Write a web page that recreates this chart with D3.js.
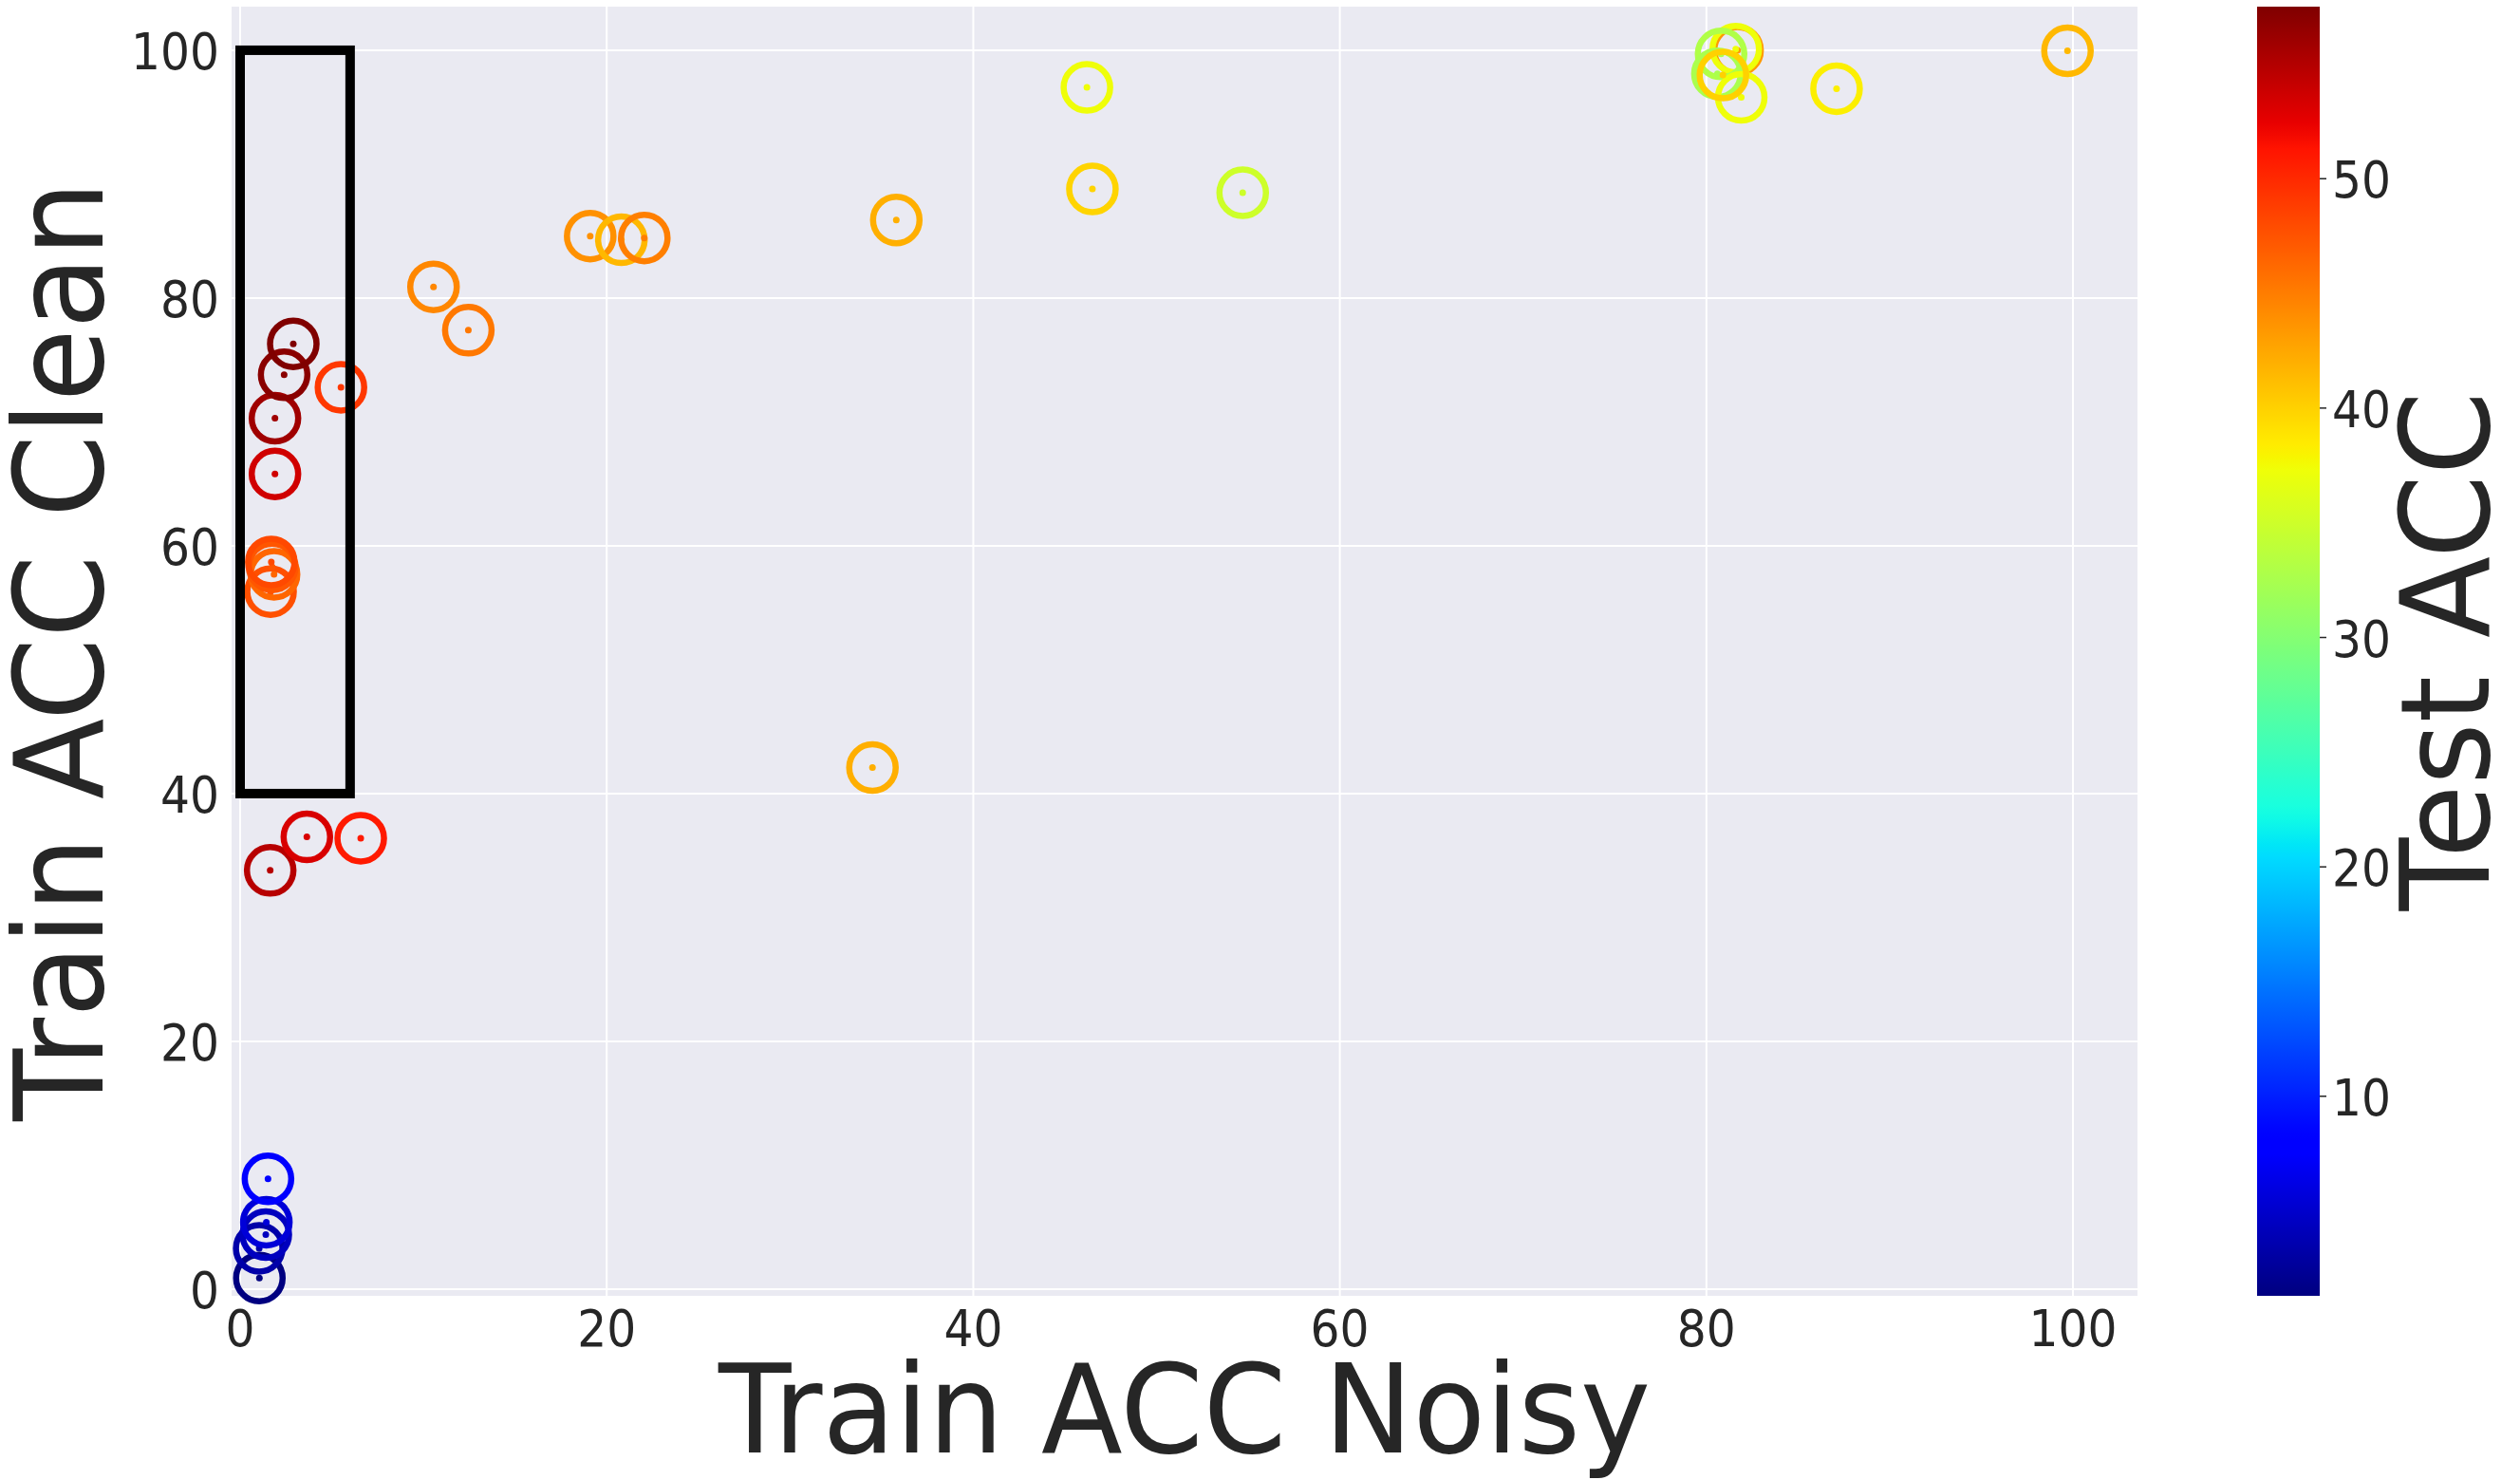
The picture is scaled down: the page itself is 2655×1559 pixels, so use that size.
<!DOCTYPE html>
<html>
<head>
<meta charset="utf-8">
<script src="https://cdn.jsdelivr.net/npm/d3@7"></script>
<style>
  body { margin: 0; background: #fff; }
  text { font-family: "DejaVu Sans", sans-serif; fill: #262626; }
</style>
</head>
<body>
<div id="my_dataviz"></div>
<script>
// data
const trainNoisy = [1.05, 1.04, 1.40, 1.43, 1.52, 1.64, 3.64, 6.58, 1.66, 1.85, 1.75, 1.70,
                    1.9, 1.9, 2.4, 2.9, 5.5, 10.55, 12.45, 19.1, 20.8, 22.05, 34.5, 35.8,
                    46.2, 46.5, 54.7, 81.7, 81.6, 80.8, 80.6, 81.9, 80.9, 87.1, 99.7];
const trainClean = [0.9, 3.3, 4.4, 5.4, 8.9, 33.8, 36.5, 36.4, 56.3, 57.7, 58.3, 58.7,
                    65.8, 70.3, 73.8, 76.3, 72.8, 80.9, 77.4, 85.0, 84.7, 84.85, 42.1, 86.3,
                    97.0, 88.8, 88.5, 100.0, 100.1, 99.7, 98.1, 96.2, 98.0, 96.9, 99.95];
const testAcc    = [1.3, 3.3, 4.4, 5.6, 7.5, 54.8, 53.2, 50.9, 47.7, 46.4, 47.3, 48.1,
                    53.6, 55.9, 57.0, 57.5, 49.1, 44.4, 45.3, 43.8, 41.5, 44.9, 42.0, 42.0,
                    37.3, 39.8, 35.0, 43.3, 37.2, 33.0, 32.6, 37.3, 40.0, 38.2, 41.5];

const xTicks = [0, 20, 40, 60, 80, 100];
const yTicks = [0, 20, 40, 60, 80, 100];
const cbarTicks = [10, 20, 30, 40, 50];
// highlighted region: [x0, y0, x1, y1]
const box = [0, 40, 6, 100];

const margin = { top: 7, right: 403, bottom: 194, left: 244 },
      width = 2655 - margin.left - margin.right,
      height = 1559 - margin.top - margin.bottom;

// matplotlib "jet"
const jetR = [[0, 0], [0.35, 0], [0.66, 1], [0.89, 1], [1, 0.5]];
const jetG = [[0, 0], [0.125, 0], [0.375, 1], [0.64, 1], [0.91, 0], [1, 0]];
const jetB = [[0, 0.5], [0.11, 1], [0.34, 1], [0.65, 0], [1, 0]];
const seg = s => d3.scaleLinear().domain(s.map(d => d[0])).range(s.map(d => d[1])).clamp(true);
const fr = seg(jetR), fg = seg(jetG), fb = seg(jetB);
const jet = t => d3.rgb(fr(t) * 255, fg(t) * 255, fb(t) * 255).formatHex();

const svg = d3.select("#my_dataviz")
  .append("svg")
  .attr("width", 2655)
  .attr("height", 1559);

const g = svg.append("g")
  .attr("transform", `translate(${margin.left},${margin.top})`);

const x = d3.scaleLinear().domain([-0.466, 103.52]).range([0, width]);
const y = d3.scaleLinear().domain([-0.54, 103.52]).range([height, 0]);
const cmin = d3.min(testAcc), cmax = d3.max(testAcc);
const color = v => jet((v - cmin) / (cmax - cmin));

const tickFont = 54, digitW = 31;

// background + grid
g.append("rect")
  .attr("width", width)
  .attr("height", height)
  .attr("fill", "#eaeaf2");

g.selectAll("line.gx")
  .data(xTicks)
  .enter()
  .append("line")
  .attr("x1", d => x(d)).attr("x2", d => x(d))
  .attr("y1", 0).attr("y2", height)
  .attr("stroke", "#fff").attr("stroke-width", 2);

g.selectAll("line.gy")
  .data(yTicks)
  .enter()
  .append("line")
  .attr("y1", d => y(d)).attr("y2", d => y(d))
  .attr("x1", 0).attr("x2", width)
  .attr("stroke", "#fff").attr("stroke-width", 2);

// tick labels
g.selectAll("text.xt")
  .data(xTicks)
  .enter()
  .append("text")
  .attr("x", d => x(d))
  .attr("y", height + 53)
  .attr("text-anchor", "middle")
  .attr("font-size", tickFont)
  .attr("textLength", d => String(d).length * digitW)
  .attr("lengthAdjust", "spacingAndGlyphs")
  .text(d => d);

g.selectAll("text.yt")
  .data(yTicks)
  .enter()
  .append("text")
  .attr("x", -13)
  .attr("y", d => y(d) + 20)
  .attr("text-anchor", "end")
  .attr("font-size", tickFont)
  .attr("textLength", d => String(d).length * digitW)
  .attr("lengthAdjust", "spacingAndGlyphs")
  .text(d => d);

// points
const pts = trainNoisy.map((d, i) => ({ x: d, y: trainClean[i], c: testAcc[i] }));
const pg = g.selectAll("g.pt")
  .data(pts)
  .enter()
  .append("g");

pg.append("circle")
  .attr("cx", d => x(d.x))
  .attr("cy", d => y(d.y))
  .attr("r", 24.5)
  .attr("fill", "none")
  .attr("stroke", d => color(d.c))
  .attr("stroke-width", 6.5);

pg.append("circle")
  .attr("cx", d => x(d.x))
  .attr("cy", d => y(d.y))
  .attr("r", 3.5)
  .attr("fill", d => color(d.c));

// highlight box
g.append("rect")
  .attr("x", x(box[0]))
  .attr("y", y(box[3]))
  .attr("width", x(box[2]) - x(box[0]))
  .attr("height", y(box[1]) - y(box[3]))
  .attr("fill", "none")
  .attr("stroke", "#000")
  .attr("stroke-width", 10);

// axis labels
svg.append("text")
  .attr("x", margin.left + width / 2)
  .attr("y", 1530)
  .attr("text-anchor", "middle")
  .attr("font-size", 130)
  .attr("textLength", 982)
  .attr("lengthAdjust", "spacingAndGlyphs")
  .text("Train ACC Noisy");

svg.append("text")
  .attr("transform", `translate(108,${margin.top + height / 2}) rotate(-90)`)
  .attr("text-anchor", "middle")
  .attr("font-size", 130)
  .attr("textLength", 990)
  .attr("lengthAdjust", "spacingAndGlyphs")
  .text("Train ACC Clean");

// colorbar
const cb = { x: 2378, w: 66 };
const grad = svg.append("defs").append("linearGradient")
  .attr("id", "jetgrad")
  .attr("x1", 0).attr("y1", 1).attr("x2", 0).attr("y2", 0);
grad.selectAll("stop")
  .data(d3.range(0, 1.0001, 0.01))
  .enter()
  .append("stop")
  .attr("offset", d => d)
  .attr("stop-color", d => jet(d));

svg.append("rect")
  .attr("x", cb.x)
  .attr("y", margin.top)
  .attr("width", cb.w)
  .attr("height", height)
  .attr("fill", "url(#jetgrad)");

const cy = d3.scaleLinear().domain([cmin, cmax]).range([margin.top + height, margin.top]);

svg.selectAll("line.ct")
  .data(cbarTicks)
  .enter()
  .append("line")
  .attr("x1", cb.x + cb.w).attr("x2", cb.x + cb.w + 7)
  .attr("y1", d => cy(d)).attr("y2", d => cy(d))
  .attr("stroke", "#262626").attr("stroke-width", 1.5);

svg.selectAll("text.ct")
  .data(cbarTicks)
  .enter()
  .append("text")
  .attr("x", cb.x + cb.w + 13)
  .attr("y", d => cy(d) + 20)
  .attr("font-size", tickFont)
  .attr("textLength", d => String(d).length * digitW)
  .attr("lengthAdjust", "spacingAndGlyphs")
  .text(d => d);

svg.append("text")
  .attr("transform", `translate(2622,${margin.top + height / 2}) rotate(-90)`)
  .attr("text-anchor", "middle")
  .attr("font-size", 130)
  .attr("textLength", 547)
  .attr("lengthAdjust", "spacingAndGlyphs")
  .text("Test ACC");
</script>
</body>
</html>
